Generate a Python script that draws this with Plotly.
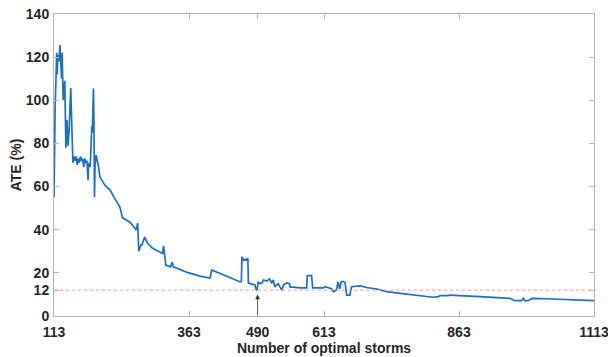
import plotly.graph_objects as go

# Number of optimal storms (x) and ATE (%) (y)
storms = [113, 114, 115, 118, 119, 120, 122, 124, 126, 127, 128, 130, 133, 135, 137, 139, 141, 144,
          146, 148, 150, 152, 154, 156, 158, 160, 162, 164, 166, 168, 170, 172, 174, 176, 177, 178,
          180, 183, 184, 186, 187, 188, 189, 191, 193, 195, 198, 207, 212, 217, 222, 230, 235, 240,
          250, 253, 262, 265, 268, 270, 274, 276, 281, 286, 295, 308, 314, 316, 320, 329, 332, 334,
          344, 360, 383, 402, 405, 425, 445, 458, 460, 461, 464, 470, 472, 473, 485, 487, 489, 491,
          494, 498, 501, 507, 512, 516, 519, 522, 528, 532, 535, 538, 544, 549, 550, 569, 581, 582,
          590, 592, 612, 615, 627, 630, 636, 639, 642, 645, 649, 652, 655, 661, 664, 680, 692, 711,
          729, 754, 791, 815, 825, 828, 843, 846, 902, 957, 967, 979, 982, 985, 991, 998, 1025, 1113]
ate = [55, 91, 95.5, 122, 112, 121, 118, 125.6, 117, 110, 122, 100, 109, 78, 91, 79, 86, 105.7,
       88, 71, 74, 72, 74, 70, 73, 71, 74, 72, 73, 69, 73, 71, 72, 63, 70, 71,
       69, 88, 85, 105.5, 90, 55, 70, 74.6, 72, 70, 64.5, 60.7, 59.5, 58.4, 56, 53, 50.5, 45.5,
       44, 43.6, 41, 39.9, 43, 30, 33, 33, 36.6, 33.8, 31.5, 29.7, 29, 32.5, 23.6, 22.8, 25, 22.8,
       21.8, 20.2, 18.5, 17.6, 21.3, 19.2, 17.2, 15.8, 16, 27.4, 26, 26.5, 26.5, 15.3, 14.4, 12.5, 12, 15.8,
       15.0, 15.3, 16.7, 16.2, 17.2, 15.3, 16.7, 13.5, 15, 13.2, 12, 14.5, 15.3, 15, 13.5, 13, 13, 18.7,
       18.7, 13, 13, 13.6, 12.7, 11.3, 12, 15.8, 12.5, 16, 16, 15.5, 9.7, 9.7, 13.6, 14, 13.2, 12.5,
       11.3, 10.5, 9.4, 8.7, 9.0, 9.4, 9.4, 9.7, 9.0, 8.2, 7.1, 7.1, 8.2, 7.1, 7.1, 8.2, 8.0, 7.1]

x_ticks = [113, 363, 490, 613, 863, 1113]
y_ticks = [0, 12, 20, 40, 60, 80, 100, 120, 140]
threshold = 12
arrow_x = 490
arrow_tip = 10

FONT = "Liberation Sans, Arial, sans-serif"
AXIS_COLOR = "#b3b3b3"
TEXT_COLOR = "#262626"

fig = go.Figure()
fig.add_trace(go.Scatter(x=storms, y=ate, mode="lines",
                         line=dict(color="#1f6fc4", width=1.7), showlegend=False,
                         hoverinfo="skip"))

fig.add_shape(type="line", xref="x domain", yref="y", x0=0, x1=1, y0=threshold, y1=threshold,
              line=dict(color="#f59a9a", width=1, dash="dot"))

fig.add_annotation(x=arrow_x, y=arrow_tip, ax=arrow_x, ay=0, xref="x", yref="y",
                   axref="x", ayref="y", showarrow=True, arrowhead=2, arrowsize=1.2,
                   arrowwidth=0.8, arrowcolor="#333333", text="")

def axis_common():
    return dict(showline=True, linecolor=AXIS_COLOR, linewidth=1, mirror="ticks",
                ticks="inside", ticklen=5, tickcolor=AXIS_COLOR, showgrid=False,
                zeroline=False, automargin=False, ticklabeloverflow="allow",
                tickfont=dict(family=FONT, size=14, color=TEXT_COLOR, weight="bold"))

fig.update_layout(
    width=608, height=357,
    margin=dict(l=54, r=14, t=14, b=41),
    paper_bgcolor="white", plot_bgcolor="white",
    xaxis=dict(range=[113, 1113], tickvals=x_ticks, ticktext=[str(v) for v in x_ticks],
               ticklabelstandoff=3,
               title=dict(text="Number of optimal storms", standoff=0,
                          font=dict(family=FONT, size=14, color=TEXT_COLOR, weight="bold")),
               **axis_common()),
    yaxis=dict(range=[0, 140], tickvals=y_ticks, ticktext=[str(v) for v in y_ticks],
               ticklabelstandoff=1,
               title=dict(text="ATE (%)", standoff=0,
                          font=dict(family=FONT, size=14, color=TEXT_COLOR, weight="bold")),
               **axis_common()),
)

fig.write_html("out.html")
